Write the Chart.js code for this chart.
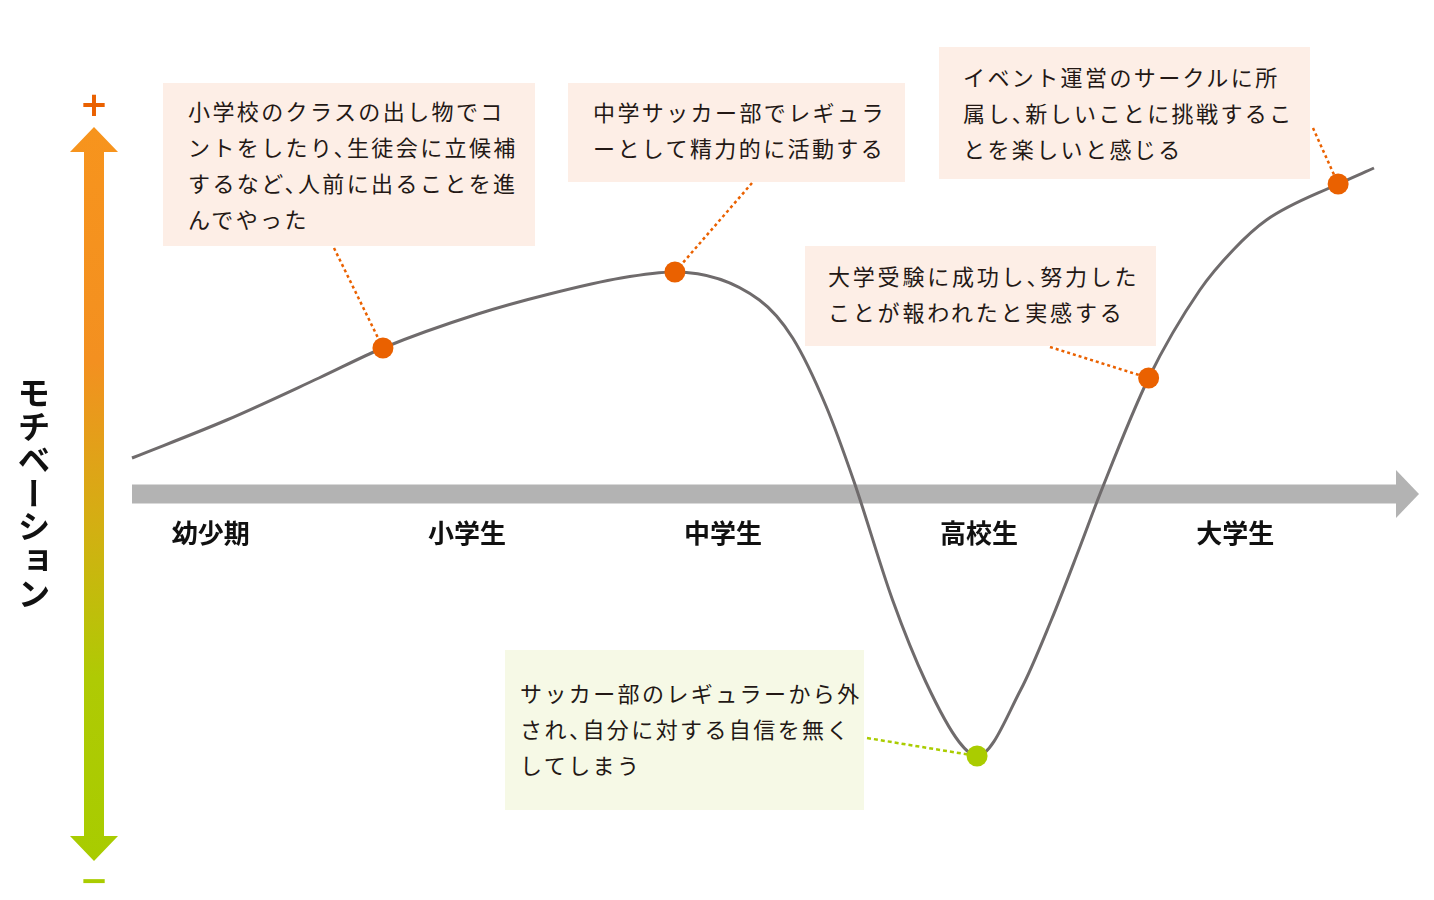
<!DOCTYPE html>
<html lang="ja">
<head>
    <meta charset="UTF-8">
    <title>モチベーショングラフ</title>
    <script src="https://cdn.jsdelivr.net/npm/chart.js"></script>
    <style>
        body {
            margin: 0;
            background: #ffffff;
            font-family: "Noto Sans CJK JP", "Noto Sans", sans-serif;
        }
        .wrap {
            position: relative;
            width: 1434px;
            height: 900px;
        }
        canvas {
            position: absolute;
            left: 0;
            top: 0;
        }
        .note {
            position: absolute;
            box-sizing: border-box;
            background: #FDEEE6;
            color: #231815;
            font-size: 22px;
            line-height: 36px;
            letter-spacing: 2.4px;
            white-space: nowrap;
        }
        .note.low {
            background: #F6F9E6;
        }
        .note .p {
            margin-right: -11px;
        }
        .ylabel {
            position: absolute;
            left: 17px;
            top: 376px;
            writing-mode: vertical-rl;
            font-size: 33px;
            font-weight: 700;
            line-height: 34px;
            letter-spacing: 0.5px;
            color: #111;
        }
    </style>
</head>
<body>
<div class="wrap">
    <canvas id="curveChart" width="1434" height="900"></canvas>

    <div class="ylabel">モチベーション</div>

    <div class="note" style="left:163px;top:83px;width:372px;height:163px;padding:9px 0 0 25px;">
        小学校のクラスの出し物でコ<br>ントをしたり<span class="p">、</span>生徒会に立候補<br>するなど<span class="p">、</span>人前に出ることを進<br>んでやった
    </div>
    <div class="note" style="left:568px;top:83px;width:337px;height:99px;padding:10px 0 0 25px;">
        中学サッカー部でレギュラ<br>ーとして精力的に活動する
    </div>
    <div class="note" style="left:939px;top:47px;width:371px;height:132px;padding:11px 0 0 24px;">
        イベント運営のサークルに所<br>属し<span class="p">、</span>新しいことに挑戦するこ<br>とを楽しいと感じる
    </div>
    <div class="note" style="left:805px;top:246px;width:351px;height:100px;padding:11px 0 0 23px;letter-spacing:2.8px;">
        大学受験に成功し<span class="p">、</span>努力した<br>ことが報われたと実感する
    </div>
    <div class="note low" style="left:505px;top:650px;width:359px;height:160px;padding:24px 0 0 15px;">
        サッカー部のレギュラーから外<br>され<span class="p">、</span>自分に対する自信を無く<br>してしまう
    </div>
</div>

<script>
    // life stages on the x axis (0 = 幼少期, 1 = 小学生 ...)
    const stageLabels = ['幼少期', '小学生', '中学生', '高校生', '大学生'];
    const stageX = [0, 1, 2, 3, 4];

    // motivation curve
    const curveX = [-0.30, 0.07, 0.43, 0.68, 1.05, 1.33, 1.61, 1.82, 2.15, 2.28, 2.41, 2.52, 2.67, 2.80, 2.93, 3.00, 3.17, 3.29, 3.40, 3.48, 3.67, 3.87, 4.00, 4.13, 4.41, 4.55];
    const curveY = [9, 18.5, 29, 36.5, 45, 50, 54, 55.5, 48.5, 39, 22, 3, -26.5, -47, -62, -65.5, -49, -31.5, -13.5, 0, 29, 51, 61, 68.5, 77.5, 81.5];

    // events marked on the curve
    const eventX = [0.68, 1.82, 3.00, 3.67, 4.41];
    const eventY = [36.5, 55.5, -65.5, 29, 77.5];
    const eventColors = ['#EA6100', '#EA6100', '#AACC00', '#EA6100', '#EA6100'];

    const orange = '#EA6100';
    const green = '#AACC00';

    // where each dotted leader line leaves its note box
    const leaderStarts = [[334, 248], [752, 183], [867, 738], [1050, 347], [1313, 128]];

    const decoPlugin = {
        id: 'deco',
        beforeDatasetsDraw(chart) {
            const ctx = chart.ctx;
            const xs = chart.scales.x;
            const ys = chart.scales.y;
            const axisY = ys.getPixelForValue(0);

            ctx.save();

            // horizontal time arrow
            ctx.fillStyle = '#B3B3B3';
            ctx.fillRect(xs.left, axisY - 9.5, 1397 - xs.left, 19);
            ctx.beginPath();
            ctx.moveTo(1396, axisY - 24);
            ctx.lineTo(1419, axisY);
            ctx.lineTo(1396, axisY + 24);
            ctx.closePath();
            ctx.fill();

            // stage labels
            ctx.fillStyle = '#111';
            ctx.font = '700 26px "Noto Sans CJK JP"';
            ctx.textAlign = 'center';
            ctx.textBaseline = 'middle';
            stageLabels.forEach((s, i) => {
                ctx.fillText(s, xs.getPixelForValue(stageX[i]) + 2, axisY + 39);
            });

            // vertical motivation arrow
            const grad = ctx.createLinearGradient(0, 127, 0, 861);
            grad.addColorStop(0, '#F7941D');
            grad.addColorStop(0.32, '#F39020');
            grad.addColorStop(0.55, '#D2B012');
            grad.addColorStop(0.75, '#AFCA04');
            grad.addColorStop(1, '#A8CC00');
            ctx.fillStyle = grad;
            ctx.beginPath();
            ctx.moveTo(94, 127);
            ctx.lineTo(118, 152);
            ctx.lineTo(104, 152);
            ctx.lineTo(104, 836);
            ctx.lineTo(118, 836);
            ctx.lineTo(94, 861);
            ctx.lineTo(70, 836);
            ctx.lineTo(84, 836);
            ctx.lineTo(84, 152);
            ctx.lineTo(70, 152);
            ctx.closePath();
            ctx.fill();

            ctx.font = '700 34px "DejaVu Sans"';
            ctx.fillStyle = orange;
            ctx.fillText('+', 94, 107);
            ctx.fillStyle = green;
            ctx.fillText('−', 94, 883);

            // dotted leader lines to the event dots
            ctx.lineWidth = 2.5;
            eventX.forEach((x, i) => {
                const px = xs.getPixelForValue(x);
                const py = ys.getPixelForValue(eventY[i]);
                const st = leaderStarts[i];
                ctx.strokeStyle = eventColors[i];
                ctx.setLineDash(eventY[i] < 0 ? [4, 3] : [3, 3]);
                ctx.beginPath();
                ctx.moveTo(st[0], st[1]);
                ctx.lineTo(px, py);
                ctx.stroke();
            });

            ctx.restore();
        }
    };

    new Chart(document.getElementById('curveChart').getContext('2d'), {
        type: 'line',
        data: {
            datasets: [{
                label: 'events',
                data: eventX.map((x, i) => ({ x: x, y: eventY[i] })),
                showLine: false,
                pointRadius: 10.5,
                pointBackgroundColor: eventColors,
                pointBorderWidth: 0,
                clip: false
            }, {
                label: 'motivation',
                data: curveX.map((x, i) => ({ x: x, y: curveY[i] })),
                borderColor: '#6F6B6C',
                borderWidth: 3,
                pointRadius: 0,
                cubicInterpolationMode: 'monotone',
                fill: false,
                clip: false
            }]
        },
        options: {
            responsive: false,
            animation: false,
            layout: {
                autoPadding: false,
                padding: { left: 132, right: 60, top: 94, bottom: 6 }
            },
            scales: {
                x: { type: 'linear', min: -0.3, max: 4.55, display: false },
                y: { min: -100, max: 100, display: false }
            },
            plugins: {
                legend: { display: false },
                tooltip: { enabled: false }
            }
        },
        plugins: [decoPlugin]
    });
</script>
</body>
</html>
